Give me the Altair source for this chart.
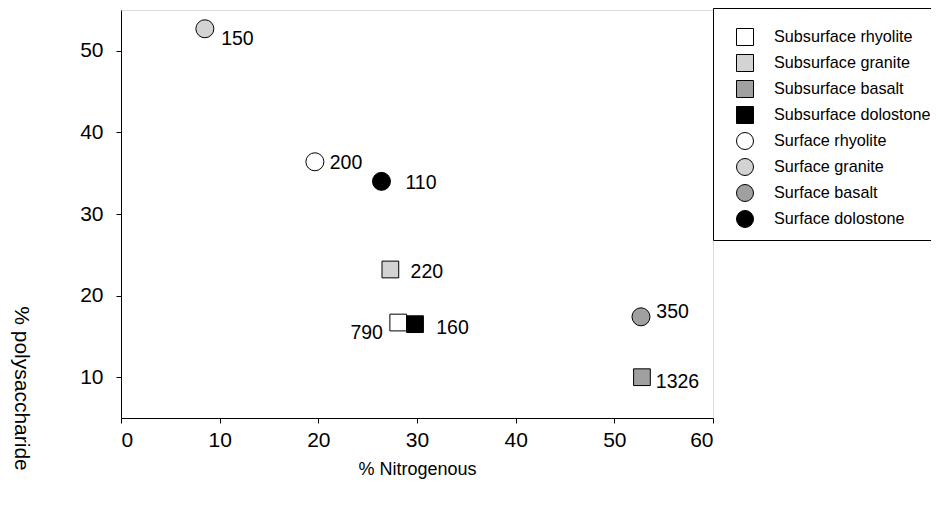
import altair as alt
import pandas as pd

series = ["Subsurface rhyolite", "Subsurface granite", "Subsurface basalt", "Subsurface dolostone",
          "Surface rhyolite", "Surface granite", "Surface basalt", "Surface dolostone"]
kind = ["square"] * 4 + ["circle"] * 4
fills = ["white", "#d3d3d3", "#a0a0a0", "black", "white", "#d3d3d3", "#a0a0a0", "black"]
strokes = ["black"] * 8
nitrogenous = [28.1, 27.3, 52.8, 29.8, 19.65, 8.5, 52.7, 26.4]
polysaccharide = [16.7, 23.2, 10.0, 16.5, 36.4, 52.7, 17.4, 34.0]
labels = ["790", "220", "1326", "160", "200", "150", "350", "110"]
label_x = [24.9, 31.0, 56.4, 33.6, 22.8, 11.8, 55.9, 30.4]
label_y = [15.4, 22.9, 9.4, 16.0, 36.3, 51.4, 18.0, 33.8]
x_ticks = [0, 10, 20, 30, 40, 50, 60]
y_ticks = [10, 20, 30, 40, 50]

df = pd.DataFrame({
    "series": series, "kind": kind, "x": nitrogenous, "y": polysaccharide,
    "label": labels, "lx": label_x, "ly": label_y,
})

FONT = "Liberation Sans"

xscale = alt.Scale(domain=[0, 60], nice=False, zero=False)
yscale = alt.Scale(domain=[5, 55], nice=False, zero=False)

xaxis = alt.Axis(values=x_ticks, title="% Nitrogenous", grid=False, tickSize=5,
                 labelFontSize=21, labelPadding=6, titleFontSize=18, titleFontWeight="normal",
                 titleY=51, titleBaseline="middle", labelFont=FONT, titleFont=FONT,
                 domainColor="black", tickColor="black", labelColor="black", titleColor="black")
yaxis = alt.Axis(values=y_ticks, title="% polysaccharide", grid=False, tickSize=5,
                 labelFontSize=21, labelPadding=13, titleFontSize=21, titleFontWeight="normal",
                 titleAngle=90, titleX=-101, titleY=378, titleAlign="center", titleBaseline="middle",
                 labelFont=FONT, titleFont=FONT,
                 domainColor="black", tickColor="black", labelColor="black", titleColor="black")

legend = alt.Legend(orient="none", legendX=592, legendY=-2, title=" ",
                    titleFontSize=1, titlePadding=9, titleOrient="top",
                    strokeColor="black", fillColor="white", padding=10,
                    symbolSize=289, symbolStrokeWidth=1,
                    labelFontSize=16.2, labelFont=FONT, labelColor="black",
                    rowPadding=4, labelOffset=20, symbolOffset=13, labelLimit=600)

shape_scale = alt.Scale(domain=series, range=kind)
fill_scale = alt.Scale(domain=series, range=fills)
stroke_scale = alt.Scale(domain=series, range=strokes)

base = alt.Chart(df)


def enc(ch):
    return ch.encode(
        x=alt.X("x:Q", scale=xscale, axis=xaxis),
        y=alt.Y("y:Q", scale=yscale, axis=yaxis),
        shape=alt.Shape("series:N", scale=shape_scale, legend=legend),
        fill=alt.Fill("series:N", scale=fill_scale, legend=legend),
        stroke=alt.Stroke("series:N", scale=stroke_scale, legend=legend),
    )


squares = enc(base.transform_filter(alt.datum.kind == "square").mark_point(
    filled=True, size=280, strokeWidth=1, opacity=1))

circles = enc(base.transform_filter(alt.datum.kind == "circle").mark_point(
    filled=True, size=324, strokeWidth=1, opacity=1))

text = base.mark_text(fontSize=19.5, font=FONT, color="black", align="center", baseline="middle").encode(
    x=alt.X("lx:Q", scale=xscale),
    y=alt.Y("ly:Q", scale=yscale),
    text="label:N",
)

chart = alt.layer(squares, circles, text).properties(
    width=592, height=408,
    autosize=alt.AutoSizeParams(type="none"),
    padding={"left": 113, "top": 2, "right": 218, "bottom": 80},
).configure_view(stroke="black", strokeWidth=1).configure(background="white")

chart.save("out.html", embed_options={"renderer": "svg", "actions": False})
